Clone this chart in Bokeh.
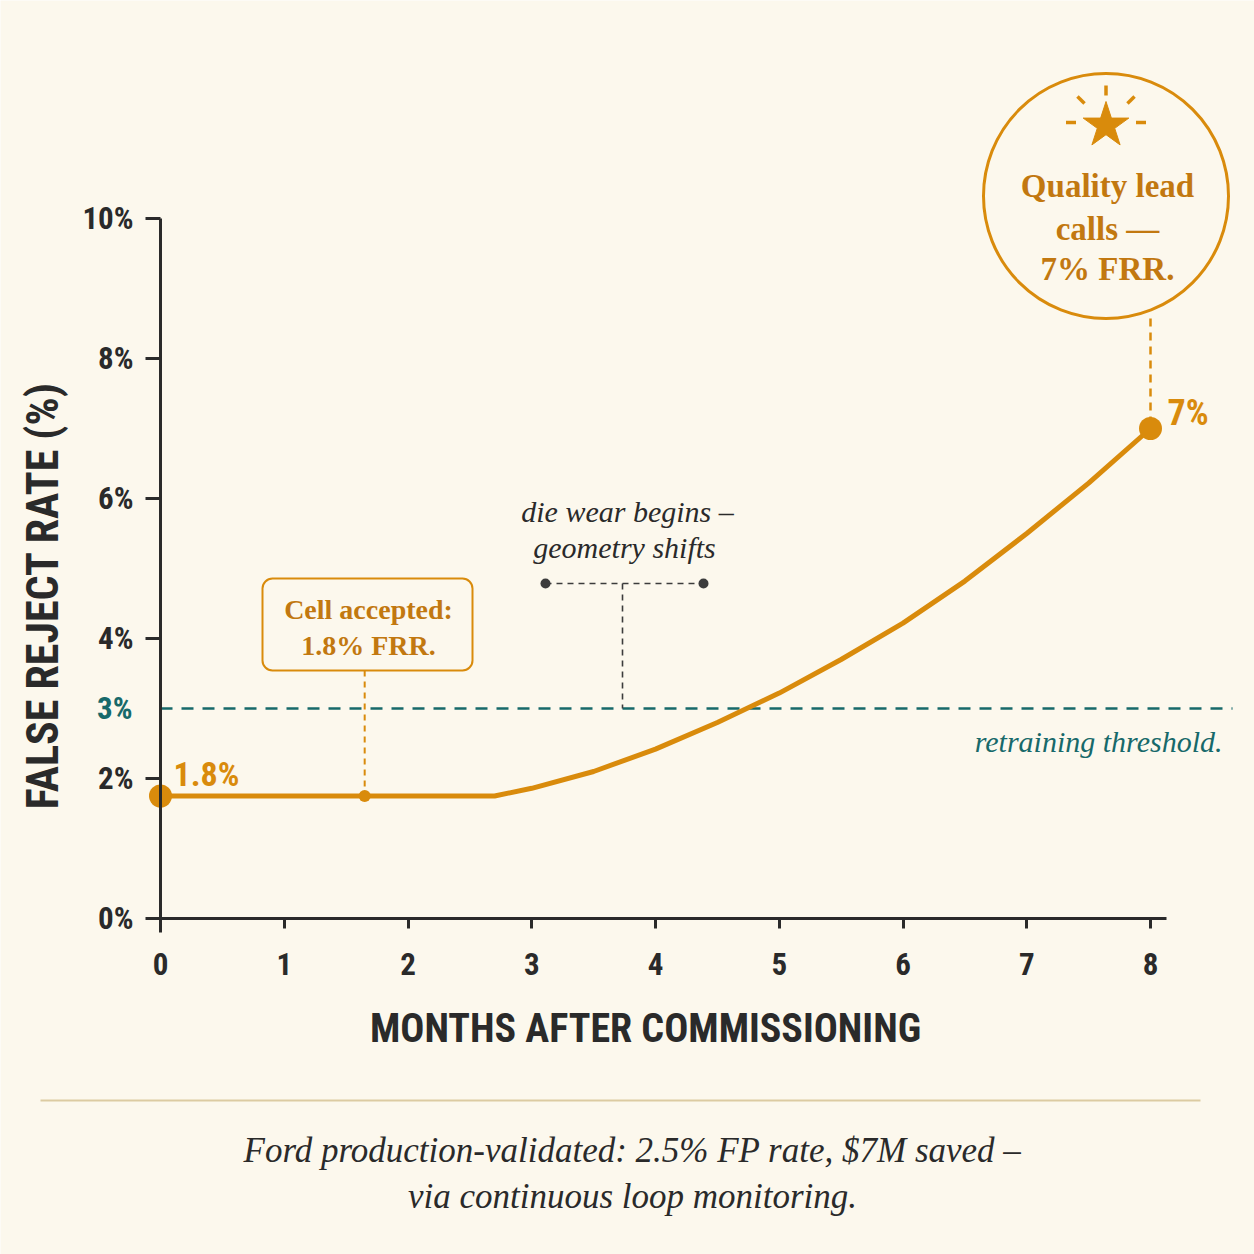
import math
from bokeh.plotting import figure
from bokeh.models import (Range1d, FixedTicker, Label, BoxAnnotation)
from bokeh.embed import file_html
from bokeh.resources import INLINE

# ---------------- data ----------------
months = [0, 0.5, 1, 1.5, 2, 2.5, 2.7, 3, 3.5, 4, 4.5, 5, 5.5, 6, 6.5, 7, 7.5, 8]
frr = [1.75, 1.75, 1.75, 1.75, 1.75, 1.75, 1.75, 1.86, 2.1, 2.42, 2.8, 3.22, 3.7, 4.22, 4.82, 5.5, 6.22, 7.0]
key_months = [0, 8]
key_frr = [1.75, 7.0]
accept_month = [1.65]
accept_frr = [1.75]
threshold = 3.0
x_ticks = [0, 1, 2, 3, 4, 5, 6, 7, 8]
y_ticks = [0, 2, 4, 6, 8, 10]
y_tick_labels = ["0%", "2%", "4%", "6%", "8%", "10%"]

# ---------------- style ----------------
BG = "#fcf8ed"
ORANGE = "#d98b0c"
ORANGE_TXT = "#c27810"
TEAL = "#17696a"
DARK = "#2a2a2a"
GREY = "#3c3c3c"
SEP = "#dccba2"
SANS = "'Roboto Condensed', 'Liberation Sans Narrow', 'DejaVu Sans Condensed', Roboto, sans-serif"
SERIF = "'Liberation Serif', 'DejaVu Serif', serif"

# layout helpers (pixel -> data for annotation placement)
PXX, PXY = 123.75, 70.0
def X(px):
    return (px - 160) / PXX
def Y(py):
    return (918 - py) / PXY

p = figure(width=1254, height=1254, output_backend="svg", toolbar_location=None,
           x_range=Range1d(X(0), X(1254)), y_range=Range1d(Y(1254), Y(0)),
           min_border_left=0, min_border_right=0, min_border_top=0, min_border_bottom=0)
p.background_fill_color = BG
p.border_fill_color = BG
p.outline_line_color = None
p.grid.visible = False

# axes
xa = p.xaxis[0]
xa.fixed_location = 0
xa.ticker = FixedTicker(ticks=x_ticks)
xa.bounds = (0, X(1166))
xa.axis_line_width = 3
xa.axis_line_color = DARK
xa.major_tick_line_width = 3
xa.major_tick_line_color = DARK
xa.major_tick_out = 10
xa.major_tick_in = 0
xa.minor_tick_line_color = None
xa.major_label_standoff = 24
xa.major_label_text_font = SANS
xa.major_label_text_font_size = "31px"
xa.major_label_text_font_style = "bold"
xa.major_label_text_color = DARK

ya = p.yaxis[0]
ya.fixed_location = 0
ya.ticker = FixedTicker(ticks=y_ticks)
ya.major_label_overrides = {t: l for t, l in zip(y_ticks, y_tick_labels)}
ya.bounds = (Y(932), 10)
ya.axis_line_width = 3
ya.axis_line_color = DARK
ya.major_tick_line_width = 3
ya.major_tick_line_color = DARK
ya.major_tick_out = 15
ya.major_tick_in = 0
ya.minor_tick_line_color = None
ya.major_label_standoff = 12
ya.major_label_text_font = SANS
ya.major_label_text_font_size = "31px"
ya.major_label_text_font_style = "bold"
ya.major_label_text_color = DARK

# threshold
p.segment(x0=[0], y0=[threshold], x1=[X(1232)], y1=[threshold], line_color=TEAL,
          line_width=2.5, line_dash="12 9")

# die wear bracket
bx0, bx1, bxm, by = X(545), X(703), X(622), Y(583)
p.segment(x0=[bx0], y0=[by], x1=[bx1], y1=[by], line_color=GREY, line_width=1.6, line_dash="6 5")
p.segment(x0=[bxm], y0=[by], x1=[bxm], y1=[threshold], line_color=GREY, line_width=1.6, line_dash="6 5")
p.scatter(x=[bx0, bx1], y=[by, by], size=10, marker="circle", fill_color=GREY, line_color=None)

# curve
p.line(months, frr, line_color=ORANGE, line_width=5, line_join="round", line_cap="round")

# connectors
p.segment(x0=accept_month, y0=[Y(670)], x1=accept_month, y1=accept_frr, line_color=ORANGE,
          line_width=2, line_dash="6 5")
p.segment(x0=[key_months[1]], y0=[Y(318)], x1=[key_months[1]], y1=[key_frr[1]], line_color=ORANGE,
          line_width=2.5, line_dash="8 6")

# points
p.scatter(key_months, key_frr, size=23, marker="circle", fill_color=ORANGE, line_color=None)
p.scatter(accept_month, accept_frr, size=12, marker="circle", fill_color=ORANGE, line_color=None)

# big callout circle
cx, cy = X(1105.5), Y(195.5)
p.scatter(x=[cx], y=[cy], size=245, marker="circle", fill_color=BG, line_color=ORANGE, line_width=3)
p.scatter(x=[cx], y=[Y(125)], size=48, marker="star", fill_color=ORANGE, line_color=ORANGE, line_width=1)
rays = [(1105.5, 90, math.pi / 2), (1080.5, 99.5, -math.pi / 4), (1130.5, 99.5, math.pi / 4),
        (1070.5, 122, 0), (1140.5, 122, 0)]
p.scatter(x=[X(r[0]) for r in rays], y=[Y(r[1]) for r in rays], angle=[r[2] for r in rays],
          marker="dash", size=10, line_color=ORANGE, line_width=3.5)

# cell accepted box
p.add_layout(BoxAnnotation(left=X(262), right=X(472), top=Y(578), bottom=Y(670),
                           fill_color=BG, fill_alpha=1, line_color=ORANGE, line_alpha=1,
                           line_width=2, border_radius=10))

# separator rule
p.segment(x0=[X(40)], y0=[Y(1100)], x1=[X(1200)], y1=[Y(1100)], line_color=SEP, line_width=2)

def lab(x, y, text, font, size, color, style="normal", align="center", baseline="middle", angle=0):
    p.add_layout(Label(x=x, y=y, text=text, text_font=font, text_font_size=size,
                       text_color=color, text_font_style=style, text_align=align,
                       text_baseline=baseline, angle=angle))

lab(X(368), Y(609), "Cell accepted:", SERIF, "28px", ORANGE_TXT, "bold")
lab(X(368), Y(645), "1.8% FRR.", SERIF, "28px", ORANGE_TXT, "bold")

lab(X(1107), Y(185), "Quality lead", SERIF, "33px", ORANGE_TXT, "bold")
lab(X(1107), Y(228), "calls —", SERIF, "33px", ORANGE_TXT, "bold")
lab(X(1107), Y(268), "7% FRR.", SERIF, "33px", ORANGE_TXT, "bold")

lab(X(627), Y(511), "die wear begins –", SERIF, "30px", DARK, "italic")
lab(X(624), Y(547), "geometry shifts", SERIF, "30px", DARK, "italic")

lab(X(1222), Y(741), "retraining threshold.", SERIF, "30px", TEAL, "italic", align="right")

lab(X(173), Y(773), "1.8%", SANS, "34px", ORANGE, "bold", align="left")
lab(X(1167), Y(412), "7%", SANS, "36px", ORANGE, "bold", align="left")
lab(X(132), threshold, "3%", SANS, "31px", TEAL, "bold", align="right")

lab(X(42), Y(595), "FALSE REJECT RATE (%)", SANS, "44px", DARK, "bold", angle=math.pi / 2)
lab(X(645), Y(1028), "MONTHS AFTER COMMISSIONING", SANS, "40px", DARK, "bold")

lab(X(632), Y(1150), "Ford production-validated: 2.5% FP rate, $7M saved –", SERIF, "35px", DARK, "italic")
lab(X(632), Y(1196), "via continuous loop monitoring.", SERIF, "35px", DARK, "italic")

open("out.html", "w").write(file_html(p, INLINE))
